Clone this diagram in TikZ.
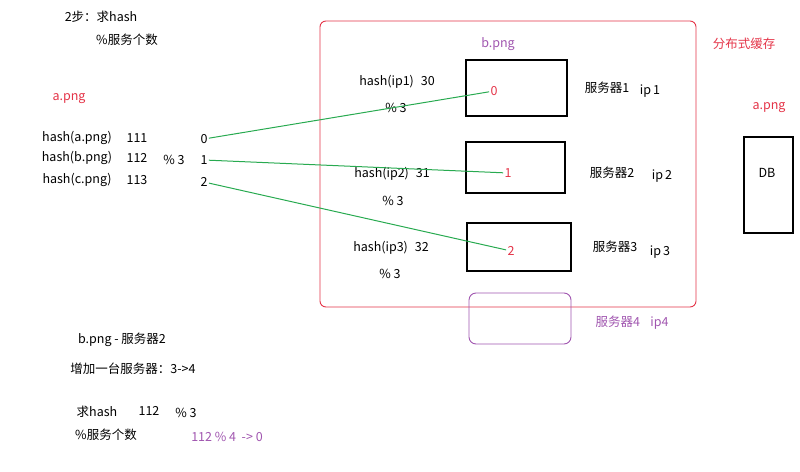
\documentclass[tikz,border=0pt]{standalone}
\usepackage{fontspec}
\setmainfont{Noto Sans CJK SC}
\usetikzlibrary{positioning}
\definecolor{hred}{RGB}{228,52,72}
\definecolor{hgreen}{RGB}{40,170,80}
\definecolor{hpurple}{RGB}{160,85,175}
\tikzset{every picture/.style={line width=0.9pt}}
\tikzset{font=\fontsize{12.5}{14}\selectfont}
\tikzstyle{srv}=[draw=black,line width=1.1pt]
\tikzstyle{num}=[inner sep=1pt]

\begin{document}
\begin{tikzpicture}[x=1pt,y=-1pt]
\useasboundingbox (0,0) rectangle (800,471);
% heading
\node (T1) at (101,17) {2步：求hash};
\node (T2) at (127,40) {\%服务个数};
\node[text=hred] (Apng) at (69,99) {a.png};
% keys
\node (HA) at (77,138) {hash(a.png)};
\node (HB) at (77,158) {hash(b.png)};
\node (HC) at (77,180) {hash(c.png)};
\node (VA) at (137,138) {111};
\node (VB) at (137,158) {112};
\node (VC) at (137,180) {113};
\node (M) at (174,160) {\% 3};
\node[num] (K0) at (204,139) {0};
\node[num] (K1) at (204,160) {1};
\node[num] (K2) at (204,182) {2};
% cache cluster
\draw[hred,rounded corners=6pt] (320,21) rectangle (696,307);
\node[text=hred] (Cache) at (744,44) {分布式缓存};
\node[text=hpurple] (Bpng) at (498,44) {b.png};
\draw[srv] (466,60) rectangle (567,116);
\draw[srv] (466,142) rectangle (565,193);
\draw[srv] (467,223) rectangle (571,271);
\node[num,text=hred] (S0) at (494,91) {0};
\node[num,text=hred] (S1) at (508,173) {1};
\node[num,text=hred] (S2) at (511,251) {2};
\node (H1) at (397,82) {hash(ip1)\;\;30};
\node (H2) at (392,174) {hash(ip2)\;\;31};
\node (H3) at (391,248) {hash(ip3)\;\;32};
\node (P1) at (396,108) {\% 3};
\node (P2) at (393,201) {\% 3};
\node (P3) at (390,274) {\% 3};
\node (N1) at (607,88) {服务器1};
\node (N2) at (612,173) {服务器2};
\node (N3) at (615,247) {服务器3};
\node (I1) at (650,91) {ip\,1};
\node (I2) at (662,176) {ip\,2};
\node (I3) at (660,252) {ip\,3};
% new server
\draw[hpurple,rounded corners=7pt] (469,293) rectangle (571,344);
\node[text=hpurple] (N4) at (632,323) {服务器4\;\;\;ip4};
% database
\node[text=hred] (Apng2) at (769,108) {a.png};
\draw[srv] (744,137) rectangle (793,233);
\node (DB) at (767,173) {DB};
\path[hgreen,line width=1pt]
(K0) edge (S0)
(K1) edge (S1)
(K2) edge (S2);
% notes
\node (B1) at (122,340) {b.png - 服务器2};
\node (B2) at (133,369) {增加一台服务器：3->4};
\node (B3) at (97,412) {求hash};
\node (B4) at (149,411) {112};
\node (B5) at (186,413) {\% 3};
\node (B6) at (106,435) {\%服务个数};
\node[text=hpurple] (B7) at (227,437) {112 \% 4 \ -> 0};
\end{tikzpicture}
\end{document}
